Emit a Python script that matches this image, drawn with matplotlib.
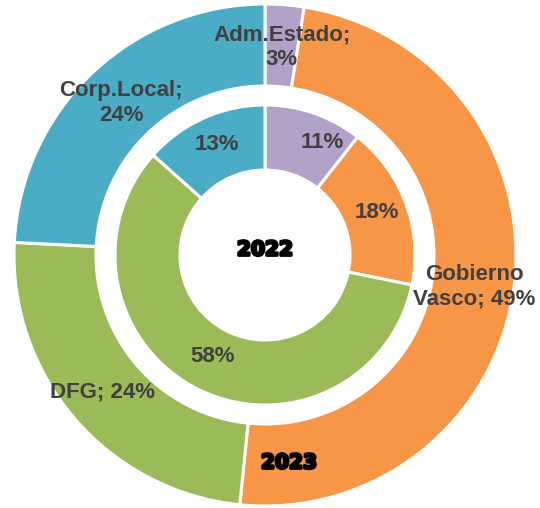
import matplotlib.pyplot as plt
import matplotlib.patheffects as pe

# datos (porcentajes)
categorias = ['Adm.Estado', 'Gobierno Vasco', 'DFG', 'Corp.Local']
valores_2023 = [2.5, 49.1, 24.2, 24.2]
valores_2022 = [10.6, 17.6, 58.4, 13.4]
etiquetas_2023 = ['Adm.Estado;\n3%', 'Gobierno\nVasco; 49%', 'DFG; 24%', 'Corp.Local;\n24%']
etiquetas_2022 = ['11%', '18%', '58%', '13%']

colores = ['#B2A2C7', '#F79646', '#9BBB59', '#4BACC6']

W, H = 540, 508
fig = plt.figure(figsize=(W / 100, H / 100), dpi=100)
ax = fig.add_axes([0, 0, 1, 1])

cx, cy = 265, H - 255

# anillo exterior (2023)
ax.pie(valores_2023, colors=colores, startangle=90, counterclock=False,
       radius=251, center=(cx, cy), frame=True,
       wedgeprops=dict(width=82, edgecolor='white', linewidth=2.2))
# anillo interior (2022)
ax.pie(valores_2022, colors=colores, startangle=90, counterclock=False,
       radius=150, center=(cx, cy), frame=True,
       wedgeprops=dict(width=65, edgecolor='white', linewidth=2.2))
ax.set_xlim(0, W)
ax.set_ylim(0, H)
ax.set_aspect('equal')
ax.axis('off')

txt = dict(fontsize=16, fontweight='bold', color='#404040',
           family='Liberation Sans', ha='center', va='center', linespacing=1.2)

# posiciones de las etiquetas (pixeles de la imagen)
pos_2023 = [(282, 47), (474, 287), (103, 392), (121, 103)]
pos_2022 = [(322, 142), (377, 212), (213, 357), (217, 145)]

for (x, y), t in zip(pos_2023, etiquetas_2023):
    ax.text(x, H - y, t, **txt)
for (x, y), t in zip(pos_2022, etiquetas_2022):
    ax.text(x, H - y, t, **txt)

anio = dict(fontsize=14.5, fontweight='bold', color='black', family='DejaVu Sans',
            ha='center', va='center',
            path_effects=[pe.withStroke(linewidth=2.0, foreground='black')])
ax.text(265, H - 250, '2022', **anio)
ax.text(289, H - 463, '2023', **anio)

fig.savefig('out.png', dpi=100)
